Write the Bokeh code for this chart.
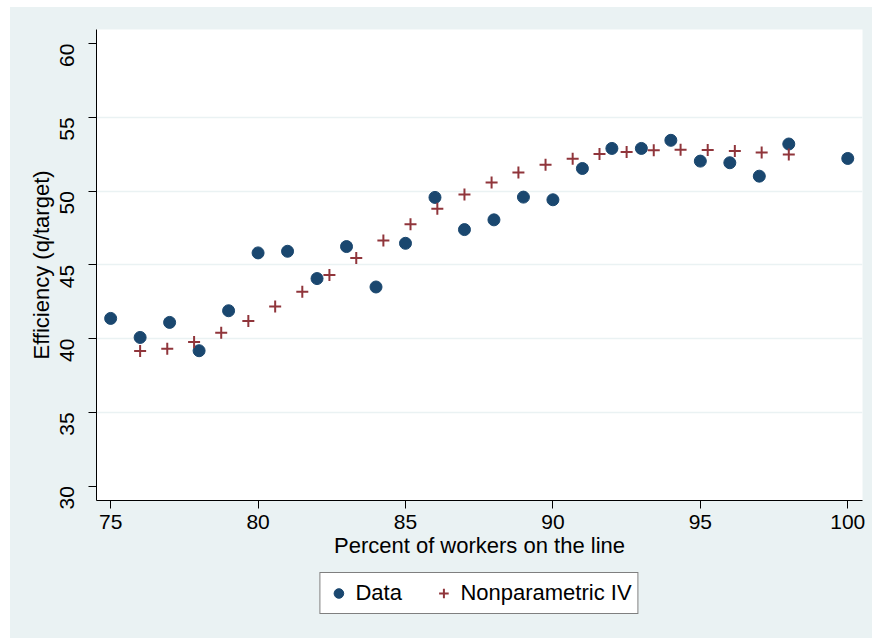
import math
from bokeh.plotting import figure
from bokeh.layouts import column
from bokeh.models import ColumnDataSource, Range1d, FixedTicker, Legend, LegendItem
from bokeh.embed import file_html
from bokeh.resources import INLINE

# Data (circles)
data_x = [75, 76, 77, 78, 79, 80, 81, 82, 83, 84, 85, 86, 87, 88, 89, 90,
          91, 92, 93, 94, 95, 96, 97, 98, 100]
data_y = [41.37, 40.08, 41.10, 39.18, 41.89, 45.81, 45.92, 44.07, 46.24, 43.50,
          46.46, 49.57, 47.39, 48.05, 49.59, 49.41, 51.53, 52.89, 52.89, 53.44,
          52.03, 51.92, 51.01, 53.19, 52.21]

# Nonparametric IV (crosses)
iv_x = [76.0, 76.92, 77.83, 78.75, 79.67, 80.58, 81.5, 82.42, 83.33, 84.25,
        85.17, 86.08, 87.0, 87.92, 88.83, 89.75, 90.67, 91.58, 92.5, 93.42,
        94.33, 95.25, 96.17, 97.08, 98.0]
iv_y = [39.17, 39.31, 39.77, 40.40, 41.20, 42.17, 43.18, 44.32, 45.47, 46.65,
        47.75, 48.80, 49.77, 50.58, 51.26, 51.78, 52.19, 52.51, 52.64, 52.76,
        52.80, 52.78, 52.71, 52.62, 52.48]

x_ticks = [75, 80, 85, 90, 95, 100]
y_ticks = [30, 35, 40, 45, 50, 55, 60]
grid_ticks = [35, 40, 45, 50, 55]

BG = "#EAF2F3"
NAVY = "#1A476F"
MAROON = "#90353B"
FONT = "Liberation Sans"
FS_TICK = "21px"
FS = "22px"

p = figure(frame_width=766, frame_height=471, output_backend="svg",
           toolbar_location=None,
           x_range=Range1d(74.52, 100.5), y_range=Range1d(29.03, 60.95),
           min_border_left=86, min_border_right=10, min_border_top=22,
           min_border_bottom=70)
p.border_fill_color = BG
p.background_fill_color = "white"
p.outline_line_color = None

src_d = ColumnDataSource(dict(x=data_x, y=data_y))
src_iv = ColumnDataSource(dict(x=iv_x, y=iv_y))
p.scatter("x", "y", source=src_d, marker="circle", size=12,
          fill_color=NAVY, line_color=NAVY)
p.scatter("x", "y", source=src_iv, marker="cross", size=12,
          line_color=MAROON, line_width=2)

# axes
for ax in (p.xaxis[0], p.yaxis[0]):
    ax.axis_line_color = "black"
    ax.axis_line_width = 1
    ax.major_tick_line_color = "black"
    ax.major_tick_out = 8
    ax.major_tick_in = 0
    ax.minor_tick_line_color = None
    ax.major_label_text_font = FONT
    ax.major_label_text_font_size = FS_TICK
    ax.major_label_text_color = "black"
    ax.axis_label_text_font = FONT
    ax.axis_label_text_font_size = FS
    ax.axis_label_text_font_style = "normal"
    ax.axis_label_text_color = "black"

p.xaxis.ticker = FixedTicker(ticks=x_ticks)
p.yaxis.ticker = FixedTicker(ticks=y_ticks)
p.xaxis.axis_label = "Percent of workers on the line"
p.yaxis.axis_label = "Efficiency (q/target)"
p.xaxis.major_label_standoff = 6
p.xaxis.axis_label_standoff = 1
p.yaxis.major_label_orientation = math.pi / 2
p.yaxis.major_label_standoff = 21
p.yaxis.axis_label_standoff = -3

p.xgrid.visible = False
p.ygrid.ticker = FixedTicker(ticks=grid_ticks)
p.ygrid.grid_line_color = BG
p.ygrid.grid_line_width = 1.5

# legend strip below the chart (its data points fall outside its own view)
leg = figure(width=862, height=68, output_backend="svg", toolbar_location=None,
             x_axis_type=None, y_axis_type=None,
             x_range=Range1d(0, 1), y_range=Range1d(0, 1),
             min_border_left=67, min_border_right=0, min_border_top=0,
             min_border_bottom=0)
leg.border_fill_color = BG
leg.background_fill_color = BG
leg.outline_line_color = None
leg.xgrid.visible = False
leg.ygrid.visible = False
lr_d = leg.scatter("x", "y", source=src_d, marker="circle", size=12,
                   fill_color=NAVY, line_color=NAVY)
lr_iv = leg.scatter("x", "y", source=src_iv, marker="cross", size=12,
                    line_color=MAROON, line_width=2)

legend = Legend(items=[LegendItem(label="Data", renderers=[lr_d]),
                       LegendItem(label="Nonparametric IV", renderers=[lr_iv])],
                orientation="horizontal", location="top_center",
                border_line_color="black", border_line_width=1,
                background_fill_color="white", background_fill_alpha=1,
                label_text_font=FONT, label_text_font_size=FS,
                label_text_color="black",
                glyph_width=24, glyph_height=24, label_height=28,
                padding=6, spacing=16, label_standoff=5, label_width=60,
                margin=2)
leg.add_layout(legend, "center")

layout = column(p, leg, spacing=0, margin=(7, 0, 0, 10),
                styles={"background-color": BG})
open("out.html", "w").write(file_html(layout, INLINE))
